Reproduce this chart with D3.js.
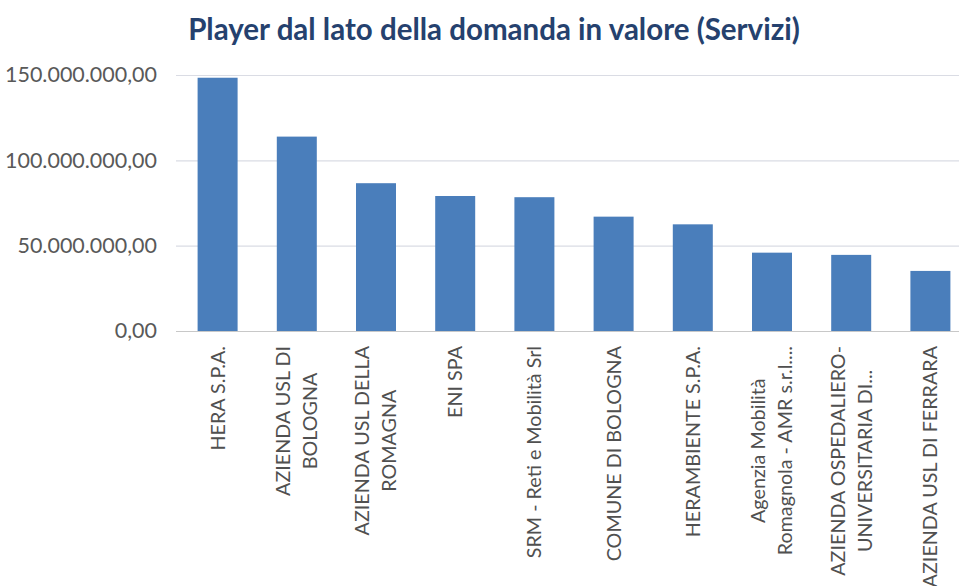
<!DOCTYPE html>
<html>
<head>
<meta charset="utf-8">
<script src="https://cdn.jsdelivr.net/npm/d3@7/dist/d3.min.js"></script>
<style>
  html, body { margin: 0; padding: 0; background: #fff; overflow: hidden; }
  svg { display: block; }
</style>
</head>
<body>
<svg id="chart" width="959" height="586"></svg>
<script>
// ---- Data ----
const title = "Player dal lato della domanda in valore (Servizi)";
const categories = [
  ["HERA S.P.A."],
  ["AZIENDA USL DI", "BOLOGNA"],
  ["AZIENDA USL DELLA", "ROMAGNA"],
  ["ENI SPA"],
  ["SRM - Reti e Mobilità Srl"],
  ["COMUNE DI BOLOGNA"],
  ["HERAMBIENTE S.P.A."],
  ["Agenzia Mobilità", "Romagnola - AMR s.r.l...."],
  ["AZIENDA OSPEDALIERO-", "UNIVERSITARIA DI..."],
  ["AZIENDA USL DI FERRARA"]
];
const values = [148.4e6, 113.9e6, 86.6e6, 79.1e6, 78.4e6, 67.0e6, 62.5e6, 45.9e6, 44.6e6, 35.2e6];
const yTicks = [0, 50e6, 100e6, 150e6];

// ---- Layout ----
const W = 959, H = 586;
const plot = { left: 178, right: 970, top: 75, bottom: 331 };
const svg = d3.select("#chart");
const fontFam = "Lato, 'Open Sans', 'DejaVu Sans', sans-serif";

function fitSize(text, targetW, weight) {
  const t = svg.append("text").attr("font-family", fontFam).attr("font-size", 100)
    .attr("font-weight", weight || "normal").text(text);
  const w = t.node().getComputedTextLength();
  t.remove();
  return 100 * targetW / w;
}

const itFmt = d3.formatLocale({ decimal: ",", thousands: ".", grouping: [3], currency: ["€", ""] }).format(",.2f");

const x = d3.scaleBand()
  .domain(categories.map((c, i) => i))
  .range([plot.left, plot.right])
  .paddingInner(0.495).paddingOuter(0.2475);

const y = d3.scaleLinear().domain([0, 150e6]).range([plot.bottom, plot.top]);

// Title
const titleSize = fitSize(title, 612, "bold");
svg.append("text")
  .attr("x", 494).attr("y", 40)
  .attr("text-anchor", "middle")
  .attr("font-family", fontFam).attr("font-weight", "bold")
  .attr("font-size", titleSize)
  .attr("fill", "#25416E")
  .text(title);

// Grid lines
svg.append("g").selectAll("line").data(yTicks).join("line")
  .attr("x1", plot.left - 2).attr("x2", W + 20)
  .attr("y1", d => y(d) + 0.5).attr("y2", d => y(d) + 0.5)
  .attr("stroke", d => d === 0 ? "#C8C8C8" : "#DADCE4").attr("stroke-width", 1.2);

// Y axis labels
const ySize = fitSize(itFmt(150e6), 152);
const yAxis = d3.axisLeft(y).tickValues(yTicks).tickFormat(itFmt).tickSize(0).tickPadding(21);
const yg = svg.append("g").attr("transform", `translate(${plot.left},0)`).call(yAxis);
yg.select(".domain").remove();
yg.selectAll("text")
  .attr("font-family", fontFam).attr("font-size", ySize)
  .attr("fill", "#595959");

// Bars
svg.append("g").selectAll("rect").data(values).join("rect")
  .attr("x", (d, i) => x(i))
  .attr("width", x.bandwidth())
  .attr("y", d => y(d))
  .attr("height", d => y(0) - y(d))
  .attr("fill", "#4A7EBB");

// X labels (rotated)
const xSize = fitSize("AZIENDA USL DI", 150);
const lineGap = 27;
const labelTop = 346;
const lg = svg.append("g").attr("font-family", fontFam).attr("font-size", xSize).attr("fill", "#505050");
categories.forEach((lines, i) => {
  const cx = x(i) + x.bandwidth() / 2;
  // measure longest line
  let maxLen = 0;
  lines.forEach(l => {
    const t = lg.append("text").text(l);
    maxLen = Math.max(maxLen, t.node().getComputedTextLength());
    t.remove();
  });
  const cy = labelTop + maxLen / 2;
  lines.forEach((l, j) => {
    const lx = cx + (j - (lines.length - 1) / 2) * lineGap;
    lg.append("text")
      .attr("transform", `translate(${lx},${cy}) rotate(-90)`)
      .attr("text-anchor", "middle")
      .attr("dy", "0.35em")
      .text(l);
  });
});
</script>
</body>
</html>
